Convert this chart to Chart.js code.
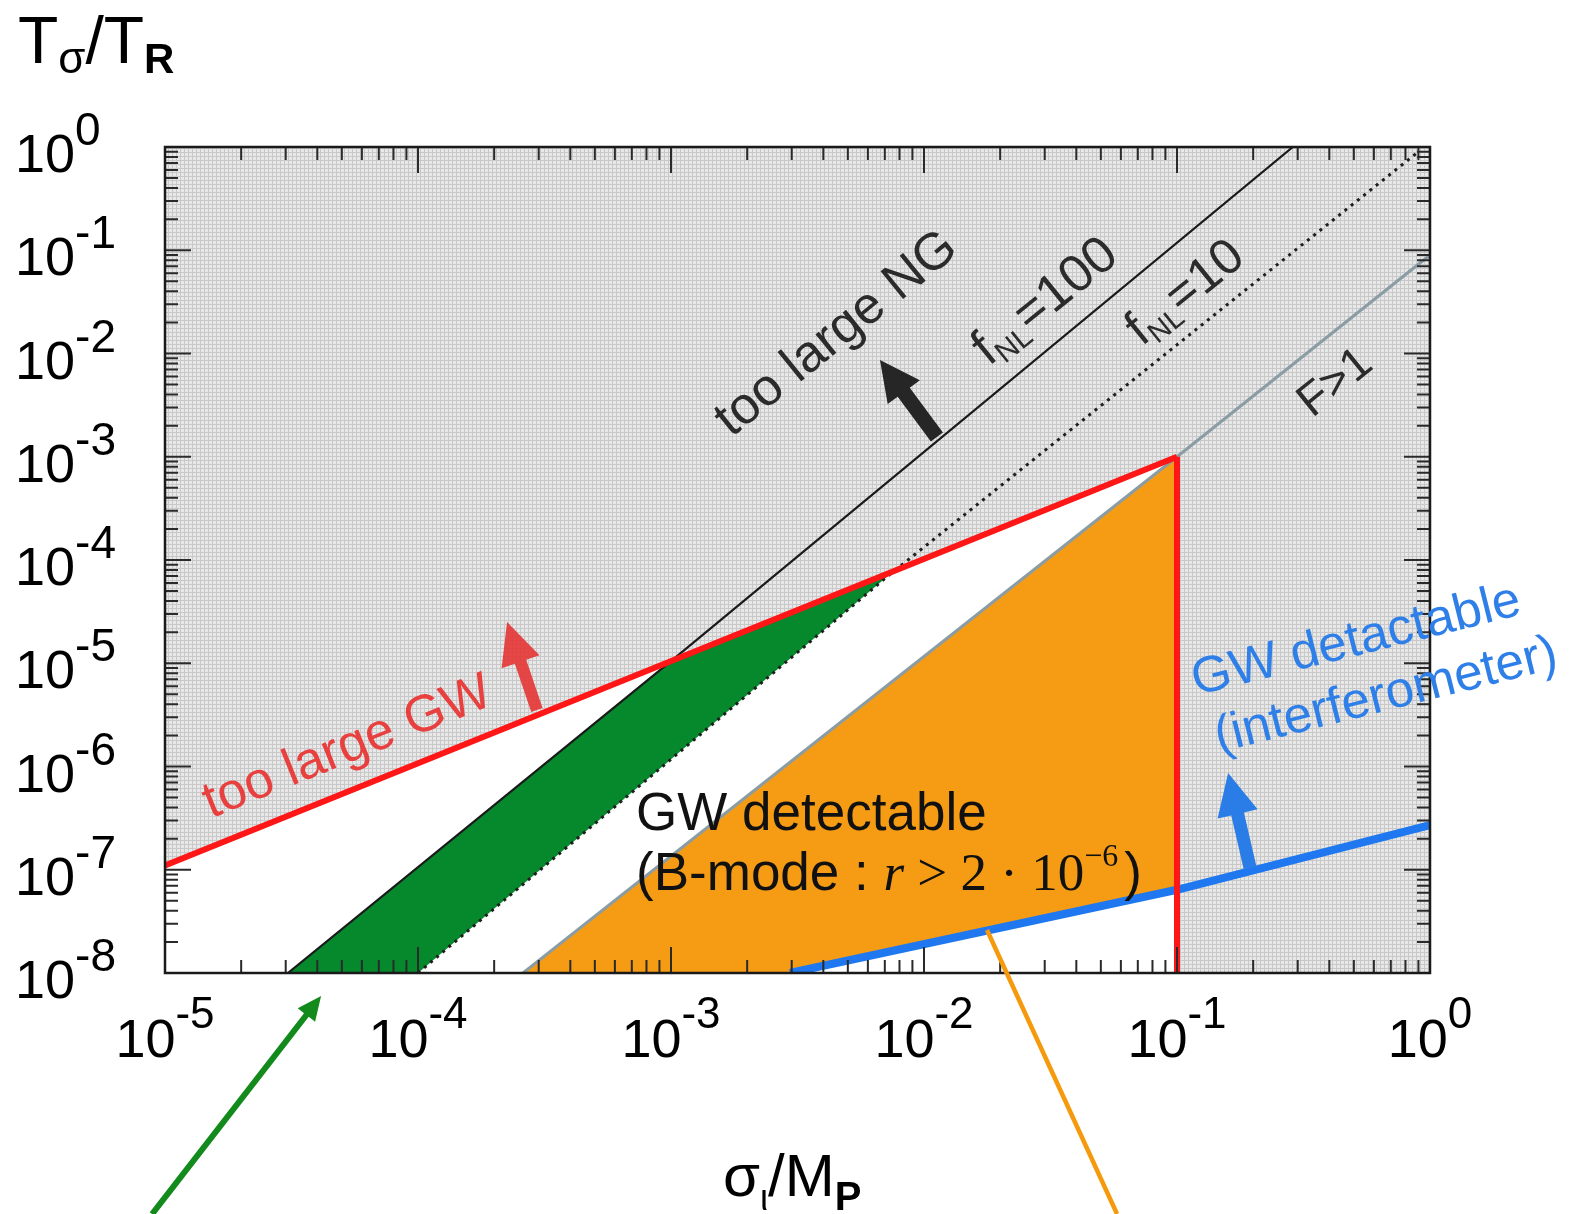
<!DOCTYPE html>
<html>
<head>
<meta charset="utf-8">
<script src="https://cdn.jsdelivr.net/npm/chart.js@4.4.1/dist/chart.umd.min.js"></script>
<style>
  html, body { margin: 0; padding: 0; background: #fff; }
  #wrap { width: 1585px; height: 1214px; }
</style>
</head>
<body>
<div id="wrap"><canvas id="chart" width="1585" height="1214"></canvas></div>
<script>
// axes: decades shown on each log axis
const xTickExps = [-5, -4, -3, -2, -1, 0];
const yTickExps = [-8, -7, -6, -5, -4, -3, -2, -1, 0];
const minorSteps = [2, 3, 4, 5, 6, 7, 8, 9];

// regions and boundary curves, [sigma/Mp, T_sigma/T_R]
const excludedRegion = [[1e-5, 1], [1e-5, 1.1e-7], [0.1, 1e-3], [0.1, 1e-8], [1, 1e-8], [1, 1]];
const greenBand = [[3.06e-5, 1e-8], [1e-3, 1.05e-5], [7.2e-3, 7.0e-5], [1e-4, 1e-8]];
const bmodeRegion = [[2.6e-4, 1e-8], [0.1, 1e-3], [0.1, 6.4e-8], [2.95e-3, 1e-8]];
const fnl100Line = [[3.06e-5, 1e-8], [1e-3, 1.05e-5], [0.287, 1]];
const fnl10Line = [[1e-4, 1e-8], [7.2e-3, 7.0e-5], [0.9, 0.9]];
const fGt1Line = [[2.6e-4, 1e-8], [0.1, 1e-3], [1, 0.09]];
const gwLimitLine = [[1e-5, 1.1e-7], [0.1, 1e-3]];
const cutoffLine = [[0.1, 1e-3], [0.1, 1e-8]];
const interferometerLine = [[2.95e-3, 1e-8], [0.1, 6.4e-8], [1, 2.7e-7]];

// annotation anchors as [log10 x, log10 y]
const ngLabelAt = [-2.356, -1.78];
const fnl100LabelAt = [-1.530, -1.47];
const fnl10LabelAt = [-0.976, -1.385];
const fGt1LabelAt = [-0.383, -2.257];
const gwLabelAt = [-4.285, -5.78];
const bmodeLine1At = [-3.138, -6.615];
const bmodeLine2At = [-3.138, -7.196];
const ifoLine1At = [-0.296, -4.745];
const ifoLine2At = [-0.178, -5.278];
const ngArrow = [[-1.949, -2.809], [-2.174, -2.063]];
const gwArrow = [[-3.530, -5.453], [-3.648, -4.600]];
const ifoArrow = [[-0.711, -6.983], [-0.798, -6.063]];
const greenPointer = [[-5.051, -10.334], [-4.383, -8.223]];
const orangePointer = [[-1.751, -7.583], [-1.237, -10.334]];

const SANS = '"Liberation Sans", Arial, Helvetica, sans-serif';
const SERIF = '"Liberation Serif", "Times New Roman", serif';

const toPoints = arr => arr.map(([x, y]) => ({x, y}));

const canvas = document.getElementById('chart');
const ctx = canvas.getContext('2d');

// light grey stipple used for the excluded parameter space
function stipple() {
  const c = document.createElement('canvas');
  c.width = 4; c.height = 4;
  const g = c.getContext('2d');
  g.fillStyle = '#e8e8e8'; g.fillRect(0, 0, 4, 4);
  g.fillStyle = '#c8c8c8'; g.fillRect(0, 0, 4, 1); g.fillRect(0, 0, 1, 4);
  return ctx.createPattern(c, 'repeat');
}

function fontOf(r) {
  return `${r.style || ''} ${r.weight || ''} ${r.size}px ${r.family || SANS}`;
}

function runsWidth(c, runs) {
  let w = 0;
  for (const r of runs) { c.font = fontOf(r); w += (r.dx || 0) + c.measureText(r.t).width; }
  return w;
}

function drawRuns(c, runs, x, y) {
  c.textBaseline = 'alphabetic';
  c.textAlign = 'left';
  for (const r of runs) {
    c.font = fontOf(r);
    x += r.dx || 0;
    c.fillText(r.t, x, y + (r.dy || 0));
    x += c.measureText(r.t).width;
  }
}

function rotatedLabel(c, runs, cx, cy, deg, color) {
  c.save();
  c.translate(cx, cy);
  c.rotate(deg * Math.PI / 180);
  c.fillStyle = color;
  const w = runsWidth(c, runs);
  drawRuns(c, runs, -w / 2, runs[0].size * 0.36);
  c.restore();
}

function arrow(c, x0, y0, x1, y1, w, hw, hl, color) {
  const dx = x1 - x0, dy = y1 - y0, len = Math.hypot(dx, dy);
  const ux = dx / len, uy = dy / len, nx = -uy, ny = ux;
  const bx = x1 - ux * hl, by = y1 - uy * hl;
  c.fillStyle = color;
  c.beginPath();
  c.moveTo(x0 + nx * w / 2, y0 + ny * w / 2);
  c.lineTo(bx + nx * w / 2, by + ny * w / 2);
  c.lineTo(bx + nx * hw / 2, by + ny * hw / 2);
  c.lineTo(x1, y1);
  c.lineTo(bx - nx * hw / 2, by - ny * hw / 2);
  c.lineTo(bx - nx * w / 2, by - ny * w / 2);
  c.lineTo(x0 - nx * w / 2, y0 - ny * w / 2);
  c.closePath();
  c.fill();
}

// frame, inward ticks, power-of-ten labels, titles and annotations
const decor = {
  id: 'decor',
  afterDraw(chart) {
    const {ctx: c, chartArea: a, scales: {x, y}} = chart;
    const px = e => x.getPixelForValue(10 ** e);
    const py = e => y.getPixelForValue(10 ** e);

    c.save();
    c.strokeStyle = '#2a2a2a';
    c.lineWidth = 2;
    c.lineCap = 'butt';
    c.beginPath();
    const xLast = xTickExps[xTickExps.length - 1];
    for (const e of xTickExps) {
      const vals = e < xLast ? [1, ...minorSteps] : [1];
      for (const m of vals) {
        const p = x.getPixelForValue(m * 10 ** e);
        const len = m === 1 ? 26 : 13;
        c.moveTo(p, a.bottom); c.lineTo(p, a.bottom - len);
        c.moveTo(p, a.top); c.lineTo(p, a.top + len);
      }
    }
    const yLast = yTickExps[yTickExps.length - 1];
    for (const e of yTickExps) {
      const vals = e < yLast ? [1, ...minorSteps] : [1];
      for (const m of vals) {
        const p = y.getPixelForValue(m * 10 ** e);
        const len = m === 1 ? 26 : 13;
        c.moveTo(a.left, p); c.lineTo(a.left + len, p);
        c.moveTo(a.right, p); c.lineTo(a.right - len, p);
      }
    }
    c.stroke();
    c.lineWidth = 2.5;
    c.strokeStyle = '#1a1a1a';
    c.strokeRect(a.left, a.top, a.right - a.left, a.bottom - a.top);

    // tick labels
    c.fillStyle = '#000';
    for (const e of xTickExps) {
      const runs = [{t: '10', size: 54}, {t: String(e), size: 44, dy: -29}];
      const w = runsWidth(c, runs);
      drawRuns(c, runs, px(e) - w / 2, a.bottom + 84);
    }
    for (const e of yTickExps) {
      const runs = [{t: '10', size: 54}, {t: String(e), size: 46, dy: -27}];
      drawRuns(c, runs, 15, py(e) + 25);
    }

    // axis titles
    drawRuns(c, [
      {t: 'T', size: 66}, {t: 'σ', size: 44, dy: 10},
      {t: '/T', size: 66}, {t: 'R', size: 42, weight: 'bold', dy: 10}
    ], 18, 63);
    drawRuns(c, [
      {t: 'σ', size: 60}, {t: 'ι', size: 36, dy: 14},
      {t: '/M', size: 60}, {t: 'P', size: 40, weight: 'bold', dy: 14}
    ], 723, 1196);

    // labels along the constraint lines
    const at = p => [px(p[0]), py(p[1])];
    rotatedLabel(c, [{t: 'too large NG', size: 52}], ...at(ngLabelAt), -39, '#2b2b2b');
    rotatedLabel(c, [{t: 'f', size: 52}, {t: 'NL', size: 30, dy: 8}, {t: '=100', size: 52}],
      ...at(fnl100LabelAt), -39, '#2b2b2b');
    rotatedLabel(c, [{t: 'f', size: 50}, {t: 'NL', size: 29, dy: 8}, {t: '=10', size: 50}],
      ...at(fnl10LabelAt), -39, '#2b2b2b');
    rotatedLabel(c, [{t: 'F>1', size: 46}], ...at(fGt1LabelAt), -39, '#2b2b2b');
    rotatedLabel(c, [{t: 'too large GW', size: 52}], ...at(gwLabelAt), -22, '#e8403f');
    rotatedLabel(c, [{t: 'GW detactable', size: 51}], ...at(ifoLine1At), -14, '#2f7fe8');
    rotatedLabel(c, [{t: '(interferometer)', size: 51}], ...at(ifoLine2At), -14, '#2f7fe8');

    c.fillStyle = '#111';
    drawRuns(c, [{t: 'GW detectable', size: 53}], ...at(bmodeLine1At));
    drawRuns(c, [
      {t: '(B-mode : ', size: 53},
      {t: 'r', size: 53, style: 'italic', family: SERIF},
      {t: ' > 2 · 10', size: 53, family: SERIF},
      {t: '−6', size: 32, family: SERIF, dy: -24},
      {t: ')', size: 53, dx: 6}
    ], ...at(bmodeLine2At));

    // arrows
    const arr = (pair, w, hw, hl, color) => {
      const [t0, t1] = [at(pair[0]), at(pair[1])];
      arrow(c, t0[0], t0[1], t1[0], t1[1], w, hw, hl, color);
    };
    arr(ngArrow, 15, 40, 40, '#262626');
    arr(gwArrow, 12, 40, 42, 'rgba(228, 52, 52, 0.9)');
    arr(ifoArrow, 13, 41, 42, '#2a7de6');
    arr(greenPointer, 6, 22, 24, '#138a1c');

    const [o0, o1] = [at(orangePointer[0]), at(orangePointer[1])];
    c.strokeStyle = '#f59a0c';
    c.lineWidth = 4.5;
    c.beginPath();
    c.moveTo(o0[0], o0[1]);
    c.lineTo(o1[0], o1[1]);
    c.stroke();
    c.restore();
  }
};

const base = {pointRadius: 0, borderWidth: 0, fill: false, tension: 0};

new Chart(ctx, {
  type: 'line',
  data: {
    datasets: [
      {...base, data: toPoints(excludedRegion), fill: 'shape', backgroundColor: stipple(), borderColor: 'rgba(0,0,0,0)', order: 10},
      {...base, data: toPoints(greenBand), fill: 'shape', backgroundColor: '#06882d', borderColor: 'rgba(0,0,0,0)', order: 9},
      {...base, data: toPoints(bmodeRegion), fill: 'shape', backgroundColor: '#f59c14', borderColor: 'rgba(0,0,0,0)', order: 8},
      {...base, data: toPoints(fnl100Line), borderColor: '#1a1a1a', borderWidth: 2.2, order: 7},
      {...base, data: toPoints(fnl10Line), borderColor: '#1e1e1e', borderWidth: 3, borderDash: [3, 5], order: 6},
      {...base, data: toPoints(fGt1Line), borderColor: '#8a9ca4', borderWidth: 3, order: 5},
      {...base, data: toPoints(interferometerLine), borderColor: '#1f78f0', borderWidth: 8, order: 4},
      {...base, data: toPoints(gwLimitLine), borderColor: '#ff1616', borderWidth: 6, order: 3},
      {...base, data: toPoints(cutoffLine), borderColor: '#ff1616', borderWidth: 6, order: 2}
    ]
  },
  options: {
    responsive: false,
    animation: false,
    layout: {padding: {left: 165, right: 155, top: 147, bottom: 241}},
    plugins: {legend: {display: false}, tooltip: {enabled: false}},
    scales: {
      x: {
        type: 'logarithmic', min: 1e-5, max: 1,
        grid: {display: false}, border: {display: false}, ticks: {display: false},
        afterFit: s => { s.height = 0; }
      },
      y: {
        type: 'logarithmic', min: 1e-8, max: 1,
        grid: {display: false}, border: {display: false}, ticks: {display: false},
        afterFit: s => { s.width = 0; }
      }
    }
  },
  plugins: [decor]
});
</script>
</body>
</html>
